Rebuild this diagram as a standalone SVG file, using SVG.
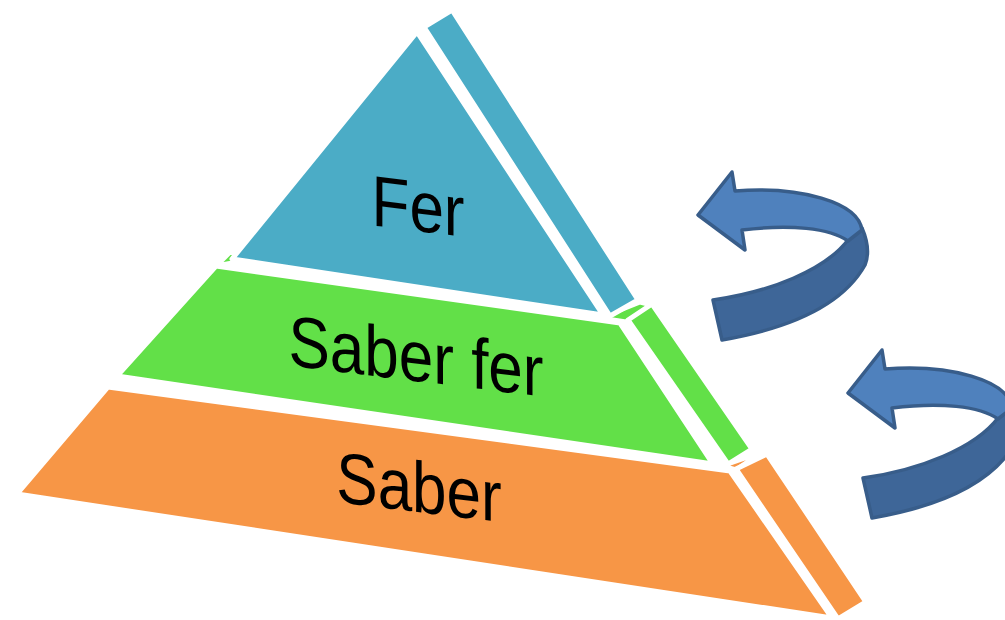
<svg xmlns="http://www.w3.org/2000/svg" width="1005" height="620" viewBox="0 0 1005 620">
<style>
.face{stroke:#fff;stroke-width:5;stroke-linejoin:round}
.blue{fill:#4BACC6}.green{fill:#62E048}.orange{fill:#F79646}
.lbl{font-family:"Liberation Sans",Arial,sans-serif;font-size:62px;fill:#000;text-anchor:middle}
.al{fill:#4F81BD;stroke:#385D8A;stroke-width:3.5;stroke-linejoin:round}
.ad{fill:#3E6698;stroke:#385D8A;stroke-width:3.5;stroke-linejoin:round}
</style>
<defs>
<g id="arrow">
<path class="ad" d="M848,240 L862,228 C868,242 869,255 865,265 C840,310 780,330 722,340 L713,300 C770,292 825,270 848,240 Z"/>
<path class="al" d="M735,191 L732,172 L698,215 L745,250 L742,230 C790,224 830,228 848,241 L862,230 C858,202 800,186 735,191 Z"/>
</g>
</defs>
<rect width="1005" height="620" fill="#fff"/>
<g id="tier-saber">
<polygon class="face orange" points="722,466 762,452 736,470"/>
<polygon class="face orange" points="108,387 730,471 832,618 17,494"/>
<polygon class="face orange" points="736,469 767,454 866,602 838,619"/>
<text class="lbl" transform="translate(419,512) skewY(7) scale(1,1.16)">Saber</text>
</g>
<g id="tier-saber-fer">
<polygon class="face green" points="216,266 232,250 238,262"/>
<polygon class="face green" points="600,318 640,302 652,305 626,322"/>
<polygon class="face green" points="216,266 620,323 713,464 117,376"/>
<polygon class="face green" points="628,320 652,304 752,449 728,464"/>
<text class="lbl" transform="translate(416,381) skewY(7) scale(1,1.16)">Saber fer</text>
</g>
<g id="tier-fer">
<polygon class="face blue" points="424,27 452,10 638,300 610,316"/>
<polygon class="face blue" points="417,32 232,259 603,315"/>
<text class="lbl" transform="translate(418,231) skewY(7) scale(1,1.16)">Fer</text>
</g>
<g id="connectors">
<use href="#arrow"/>
<use href="#arrow" transform="translate(150,178)"/>
</g>
</svg>
